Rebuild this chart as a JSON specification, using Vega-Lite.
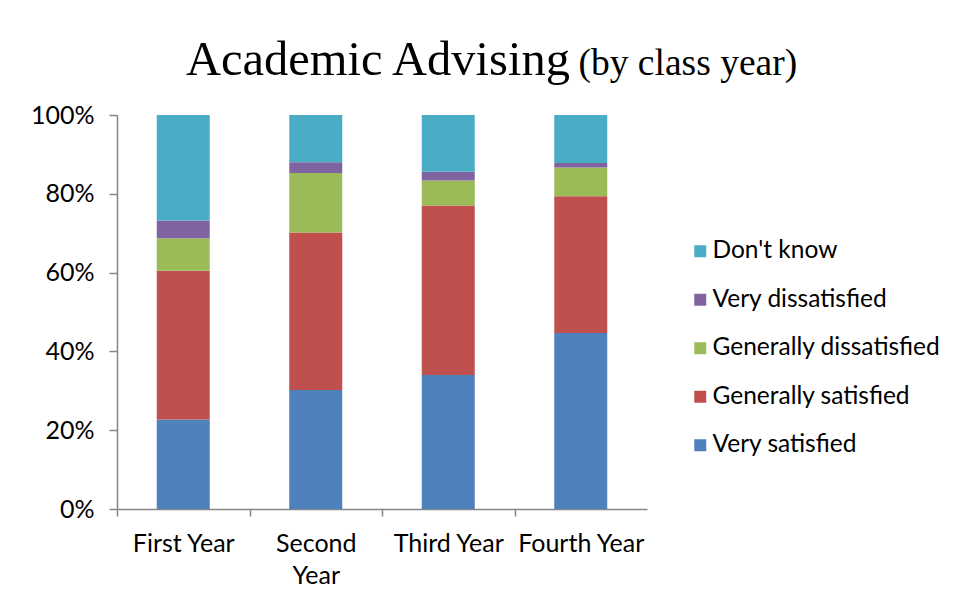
{
  "$schema": "https://vega.github.io/schema/vega-lite/v6.json",
  "autosize": "none",
  "width": 530,
  "height": 394,
  "padding": {"left": 117, "top": 115, "right": 329, "bottom": 95},
  "background": "white",
  "title": {
    "text": "Academic Advising",
    "anchor": "start",
    "frame": "group",
    "align": "left",
    "dx": 69,
    "dy": 58,
    "font": "Liberation Serif",
    "fontSize": 48.5,
    "fontWeight": "normal",
    "color": "black",
    "offset": 17
  },
  "data": {
    "values": [
      {"year": "First Year", "response": "Very satisfied", "rank": 1, "pct": 22.7},
      {"year": "First Year", "response": "Generally satisfied", "rank": 2, "pct": 37.8},
      {"year": "First Year", "response": "Generally dissatisfied", "rank": 3, "pct": 8.2},
      {"year": "First Year", "response": "Very dissatisfied", "rank": 4, "pct": 4.5},
      {"year": "First Year", "response": "Don't know", "rank": 5, "pct": 26.8},
      {"year": "Second Year", "response": "Very satisfied", "rank": 1, "pct": 30.2},
      {"year": "Second Year", "response": "Generally satisfied", "rank": 2, "pct": 40.0},
      {"year": "Second Year", "response": "Generally dissatisfied", "rank": 3, "pct": 15.1},
      {"year": "Second Year", "response": "Very dissatisfied", "rank": 4, "pct": 2.7},
      {"year": "Second Year", "response": "Don't know", "rank": 5, "pct": 12.0},
      {"year": "Third Year", "response": "Very satisfied", "rank": 1, "pct": 34.0},
      {"year": "Third Year", "response": "Generally satisfied", "rank": 2, "pct": 43.0},
      {"year": "Third Year", "response": "Generally dissatisfied", "rank": 3, "pct": 6.4},
      {"year": "Third Year", "response": "Very dissatisfied", "rank": 4, "pct": 2.2},
      {"year": "Third Year", "response": "Don't know", "rank": 5, "pct": 14.4},
      {"year": "Fourth Year", "response": "Very satisfied", "rank": 1, "pct": 44.7},
      {"year": "Fourth Year", "response": "Generally satisfied", "rank": 2, "pct": 34.7},
      {"year": "Fourth Year", "response": "Generally dissatisfied", "rank": 3, "pct": 7.3},
      {"year": "Fourth Year", "response": "Very dissatisfied", "rank": 4, "pct": 1.1},
      {"year": "Fourth Year", "response": "Don't know", "rank": 5, "pct": 12.2}
    ]
  },
  "mark": {"type": "bar"},
  "encoding": {
    "x": {
      "field": "year",
      "type": "nominal",
      "sort": ["First Year", "Second Year", "Third Year", "Fourth Year"],
      "scale": {"paddingInner": 0.6, "paddingOuter": 0.3},
      "axis": {
        "title": null,
        "labelAngle": 0,
        "labelExpr": "datum.label == 'Second Year' ? ['Second', 'Year'] : datum.label",
        "labelFont": "Lato",
        "labelFontSize": 25,
        "labelColor": "black",
        "labelPadding": 15,
        "labelLineHeight": 32,
        "domainColor": "#868686",
        "domainWidth": 1.5,
        "tickColor": "#868686",
        "tickWidth": 1.5,
        "tickSize": 7,
        "tickOffset": -66.25,
        "labelOffset": 66.25
      }
    },
    "y": {
      "field": "pct",
      "type": "quantitative",
      "stack": "zero",
      "scale": {"domain": [0, 100], "nice": false},
      "axis": {
        "title": "(by class year)",
        "titleAngle": 0,
        "titleAlign": "left",
        "titleBaseline": "alphabetic",
        "titleX": 461,
        "titleY": -41,
        "titleFont": "Liberation Serif",
        "titleFontSize": 37.5,
        "titleFontWeight": "normal",
        "titleColor": "black",
        "values": [0, 20, 40, 60, 80, 100],
        "labelExpr": "datum.value + '%'",
        "grid": false,
        "labelFont": "Lato",
        "labelFontSize": 25,
        "labelColor": "black",
        "labelPadding": 15,
        "domainColor": "#868686",
        "domainWidth": 1.5,
        "tickColor": "#868686",
        "tickWidth": 1.5,
        "tickSize": 8
      }
    },
    "color": {
      "field": "response",
      "type": "nominal",
      "scale": {
        "domain": ["Don't know", "Very dissatisfied", "Generally dissatisfied", "Generally satisfied", "Very satisfied"],
        "range": ["#4BACC6", "#8064A2", "#9BBB59", "#C0504D", "#4F81BD"]
      },
      "legend": {
        "title": null,
        "orient": "none",
        "legendX": 571,
        "legendY": 124,
        "symbolType": "square",
        "symbolSize": 144,
        "symbolStrokeWidth": 0,
        "labelFont": "Lato",
        "labelFontSize": 24.5,
        "labelColor": "black",
        "labelOffset": 0,
        "rowPadding": 23.5,
        "padding": 0,
        "labelLimit": 400
      }
    },
    "order": {"field": "rank", "type": "quantitative", "sort": "ascending"}
  },
  "config": {
    "view": {"stroke": null}
  }
}
